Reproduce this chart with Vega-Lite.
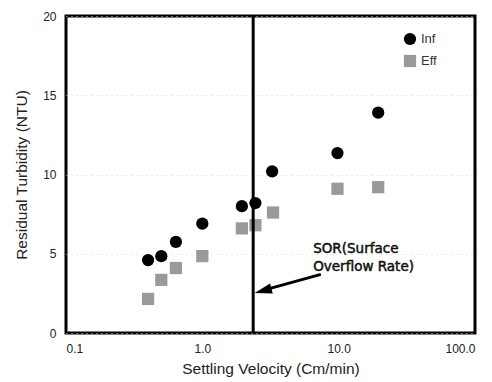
{
  "$schema": "https://vega.github.io/schema/vega-lite/v6.json",
  "width": 409,
  "height": 317,
  "autosize": {"type": "none"},
  "padding": {"left": 66, "top": 16, "right": 17, "bottom": 49},
  "background": "white",
  "config": {
    "view": {"stroke": "black", "strokeWidth": 3},
    "font": "Liberation Sans",
    "axis": {"domain": false, "ticks": false, "labelColor": "#222", "titleColor": "#222", "labelFontSize": 12, "titleFontSize": 15.5, "titleFontWeight": "normal"}
  },
  "datasets": {
    "pts": [
      {"v": 0.4, "t": 4.6, "s": "Inf"},
      {"v": 0.5, "t": 4.85, "s": "Inf"},
      {"v": 0.64, "t": 5.75, "s": "Inf"},
      {"v": 1.0, "t": 6.9, "s": "Inf"},
      {"v": 1.95, "t": 8.0, "s": "Inf"},
      {"v": 2.45, "t": 8.2, "s": "Inf"},
      {"v": 3.25, "t": 10.2, "s": "Inf"},
      {"v": 9.8, "t": 11.35, "s": "Inf"},
      {"v": 19.5, "t": 13.9, "s": "Inf"},
      {"v": 0.4, "t": 2.15, "s": "Eff"},
      {"v": 0.5, "t": 3.35, "s": "Eff"},
      {"v": 0.64, "t": 4.1, "s": "Eff"},
      {"v": 1.0, "t": 4.85, "s": "Eff"},
      {"v": 1.95, "t": 6.6, "s": "Eff"},
      {"v": 2.45, "t": 6.8, "s": "Eff"},
      {"v": 3.3, "t": 7.6, "s": "Eff"},
      {"v": 9.8, "t": 9.1, "s": "Eff"},
      {"v": 19.5, "t": 9.2, "s": "Eff"}
    ]
  },
  "layer": [
    {
      "data": {"name": "pts"},
      "mark": {"type": "point", "filled": true, "opacity": 1},
      "encoding": {
        "x": {
          "field": "v", "type": "quantitative",
          "scale": {"type": "log", "domain": [0.1, 100]},
          "axis": {"values": [0.1, 1, 10, 100], "format": ".1f", "title": "Settling Velocity (Cm/min)", "labelPadding": 10, "titlePadding": 7, "grid": false}
        },
        "y": {
          "field": "t", "type": "quantitative",
          "scale": {"domain": [0, 20]},
          "axis": {"values": [0, 5, 10, 15, 20], "title": "Residual Turbidity (NTU)", "labelPadding": 10, "titlePadding": 13, "grid": true, "gridColor": "#d4d4d4", "gridDash": [1, 4], "gridWidth": 1}
        },
        "color": {
          "field": "s", "type": "nominal",
          "scale": {"domain": ["Inf", "Eff"], "range": ["#000000", "#9a9a9a"]},
          "legend": {"orient": "none", "legendX": 337, "legendY": 16, "title": null, "labelFontSize": 13, "labelColor": "#333", "symbolSize": 60, "rowPadding": 8, "labelOffset": 4}
        },
        "shape": {
          "field": "s", "type": "nominal",
          "scale": {"domain": ["Inf", "Eff"], "range": ["circle", "square"]}
        },
        "size": {
          "field": "s", "type": "nominal",
          "scale": {"domain": ["Inf", "Eff"], "range": [150, 150]},
          "legend": null
        }
      }
    },
    {
      "data": {"values": [{"v": 2.36}]},
      "mark": {"type": "rule", "color": "black", "strokeWidth": 3},
      "encoding": {"x": {"field": "v", "type": "quantitative"}}
    },
    {
      "data": {"values": [{"v": 7.4, "t": 3.7, "v2": 3.1, "t2": 2.8}]},
      "mark": {"type": "rule", "color": "black", "strokeWidth": 3},
      "encoding": {
        "x": {"field": "v", "type": "quantitative"},
        "y": {"field": "t", "type": "quantitative"},
        "x2": {"field": "v2"},
        "y2": {"field": "t2"}
      }
    },
    {
      "data": {"values": [{"v": 2.42, "t": 2.52}]},
      "mark": {"type": "point", "filled": true, "color": "black", "opacity": 1, "shape": "M0,0L0.6,2L-0.6,2Z", "size": 300, "angle": 255},
      "encoding": {
        "x": {"field": "v", "type": "quantitative"},
        "y": {"field": "t", "type": "quantitative"}
      }
    },
    {
      "data": {"values": [{"v": 6.5, "t": 5.05, "label": "SOR(Surface"}, {"v": 6.5, "t": 3.9, "label": "Overflow Rate)"}]},
      "mark": {"type": "text", "align": "left", "baseline": "alphabetic", "fontSize": 13.5, "font": "DejaVu Sans", "fontWeight": "normal", "color": "#111", "stroke": "#111", "strokeWidth": 0.5},
      "encoding": {
        "x": {"field": "v", "type": "quantitative"},
        "y": {"field": "t", "type": "quantitative"},
        "text": {"field": "label"}
      }
    }
  ]
}
